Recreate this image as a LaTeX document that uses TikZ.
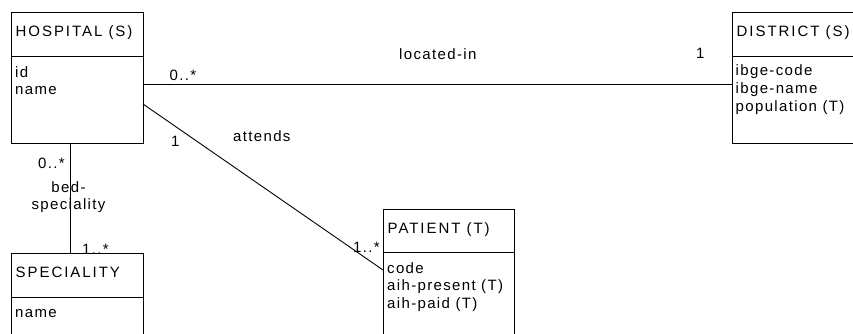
\documentclass[tikz,border=0pt]{standalone}
\usepackage{fontspec}
\setmainfont{Liberation Sans}[LetterSpace=9]
\newfontfamily\entityfont{Liberation Sans}[LetterSpace=13]
\usetikzlibrary{calc}

\begin{document}
\begin{tikzpicture}[
  x=1pt, y=-1pt,
  entity/.style = {draw, line width=0.9pt, minimum width=132pt, inner sep=0pt, outer sep=0pt, anchor=north west},
  txt/.style = {anchor=base west, inner sep=0pt, font=\fontsize{15}{17.5}\selectfont},
  title/.style = {txt, font=\fontsize{15}{17.5}\entityfont},
  mid/.style = {txt, anchor=base},
  assoc/.style = {line width=0.9pt}
]
  \useasboundingbox (0,0) rectangle (853,333);
  \clip (0,0) rectangle (853,333);

  % Entities
  \node[entity, minimum height=131pt] (hosp) at (11,12) {};
  \node[entity, minimum width=150pt, minimum height=131pt] (dist) at (732,12) {};
  \node[entity, minimum width=131pt, minimum height=140pt] (pat) at (383,209) {};
  \node[entity, minimum height=100pt] (spec) at (11,253) {};

  % Dividers between name and attributes
  \foreach \e/\d in {hosp/44, dist/44, pat/43, spec/44}
    \draw[assoc] ($(\e.north west)+(0,\d)$) -- ($(\e.north east)+(0,\d)$);

  % Entity names
  \node[title] (hospT) at ($(hosp.north west)+(4.5,24.5)$) {HOSPITAL (S)};
  \node[title] (distT) at ($(dist.north west)+(4.5,24.5)$) {DISTRICT (S)};
  \node[title] (patT) at ($(pat.north west)+(4.5,24.5)$) {PATIENT (T)};
  \node[title] (specT) at ($(spec.north west)+(4.5,24.5)$) {SPECIALITY};

  % Attributes
  \foreach \t [count=\i from 0] in {id, name}
    \node[txt] (hospA\i) at ($(hosp.north west)+(4,65+17.5*\i)$) {\t};
  \foreach \t [count=\i from 0] in {ibge-code, ibge-name, population (T)}
    \node[txt] (distA\i) at ($(dist.north west)+(3.5,63.5+17.8*\i)$) {\t};
  \foreach \t [count=\i from 0] in {code, aih-present (T), aih-paid (T)}
    \node[txt] (patA\i) at ($(pat.north west)+(4,64.3+17.4*\i)$) {\t};
  \foreach \t [count=\i from 0] in {name}
    \node[txt] (specA\i) at ($(spec.north west)+(4,64.5+17.5*\i)$) {\t};

  % Associations
  \draw[assoc] ($(hosp.north east)+(0,72)$) -- ($(dist.north west)+(0,72)$);
  \draw[assoc] ($(hosp.north east)+(0,92)$) -- ($(pat.north west)+(0,61)$);
  \draw[assoc] ($(hosp.south west)+(59,0)$) -- ($(spec.north west)+(59,0)$);

  % Association names and multiplicities
  \node[txt] (locName) at (399,59) {located-in};
  \node[txt] (locHosp) at (169.5,80) {0..*};
  \node[txt] (locDist) at (696,58) {1};
  \node[txt] (attName) at (233,141) {attends};
  \node[txt] (attHosp) at (171,146) {1};
  \node[txt] (attPat) at (353,252) {1..*};
  \node[mid] (bedName) at (68.5,192) {bed-};
  \node[mid] (bedName2) at (68.5,209) {speciality};
  \node[txt] (bedHosp) at (38,168) {0..*};
  \node[txt] (bedSpec) at (82,254.5) {1..*};
\end{tikzpicture}
\end{document}
